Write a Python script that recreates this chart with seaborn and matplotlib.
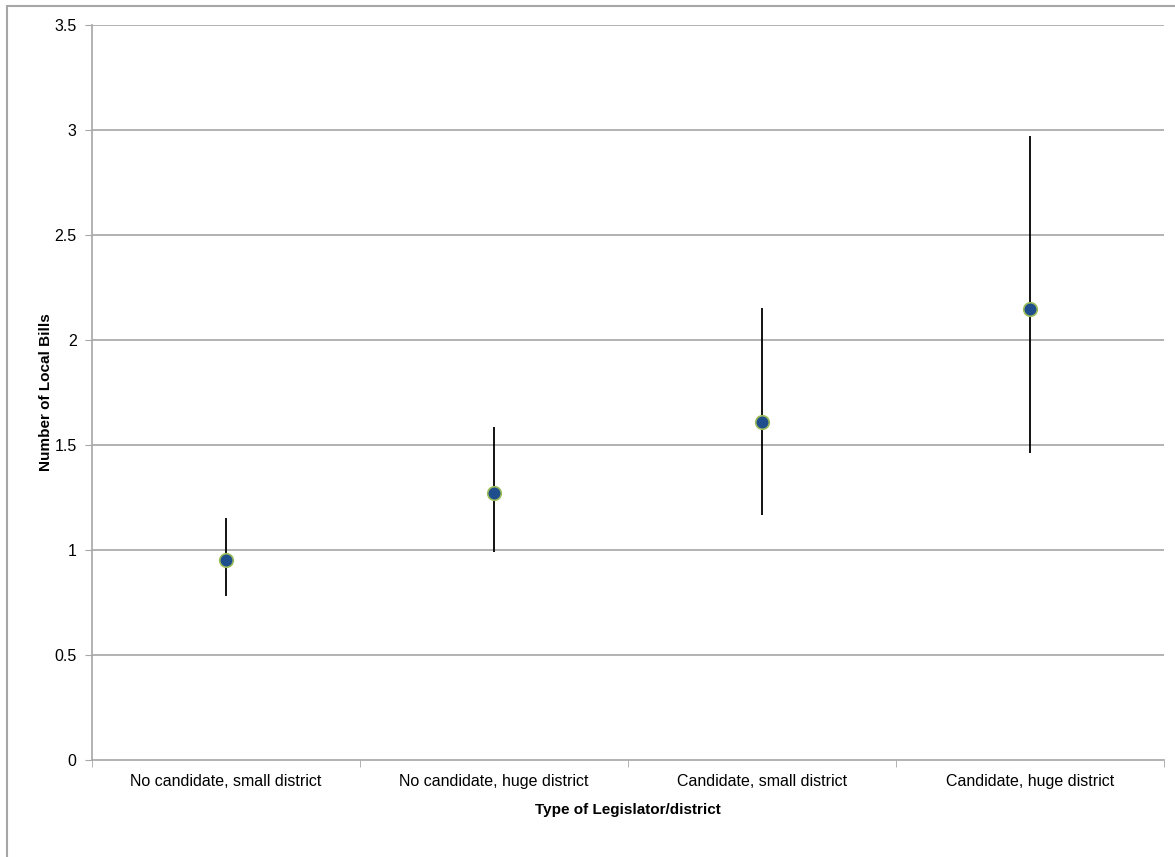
import matplotlib.pyplot as plt
import pandas as pd
import seaborn as sns
from matplotlib.lines import Line2D

categories = [
    "No candidate, small district",
    "No candidate, huge district",
    "Candidate, small district",
    "Candidate, huge district",
]
means = [0.952, 1.271, 1.608, 2.149]
lower = [0.782, 0.990, 1.165, 1.460]
upper = [1.151, 1.587, 2.154, 2.973]
y_ticks = [0, 0.5, 1, 1.5, 2, 2.5, 3, 3.5]

df = pd.DataFrame({"type": categories, "bills": means, "lo": lower, "hi": upper})
df["pos"] = range(len(df))

sns.set_style("white")
plt.rcParams["font.family"] = ["Liberation Sans", "DejaVu Sans"]
plt.rcParams["text.color"] = "black"
plt.rcParams["axes.labelcolor"] = "black"
plt.rcParams["xtick.labelcolor"] = "black"
plt.rcParams["ytick.labelcolor"] = "black"

fig = plt.figure(figsize=(11.75, 8.57), dpi=100)
ax = fig.add_axes([92 / 1175, 1 - 760 / 857, 1072 / 1175, 735 / 857])

grid_color = "#a6a6a6"
for t in y_ticks[1:]:
    ax.axhline(t, color=grid_color, lw=1.2, zorder=0)

ax.vlines(df["pos"], df["lo"], df["hi"], color="black", lw=1.3, zorder=2)
sns.scatterplot(data=df, x="pos", y="bills", ax=ax, s=95, color="#1f4e8c",
                edgecolor="#9bbb59", linewidth=1.2, zorder=3, legend=False)

ax.set_xlim(-0.5, len(categories) - 0.5)
ax.set_ylim(0, 3.5)
ax.set_yticks(y_ticks)
ax.set_yticklabels([f"{t:g}" for t in y_ticks])
ax.set_xticks(df["pos"])
ax.set_xticklabels(categories)
ax.set_xticks([p - 0.5 for p in range(len(categories) + 1)], minor=True)

ax.tick_params(axis="x", which="major", length=0, pad=10, labelsize=11.5)
ax.tick_params(axis="x", which="minor", length=5, color=grid_color, direction="out", bottom=True)
ax.tick_params(axis="y", length=5, color=grid_color, direction="out", left=True, pad=6, labelsize=11.5)

for side in ["top", "right"]:
    ax.spines[side].set_visible(False)
for side in ["left", "bottom"]:
    ax.spines[side].set_color(grid_color)
    ax.spines[side].set_linewidth(1.2)

ax.set_xlabel("Type of Legislator/district", fontweight="bold", fontsize=11, labelpad=10)
ax.set_ylabel("Number of Local Bills", fontweight="bold", fontsize=11, labelpad=1)

# chart-area border (left and top edges visible)
fig.add_artist(Line2D([7 / 1175, 7 / 1175], [0, 1 - 6 / 857], transform=fig.transFigure,
                      color="#a6a6a6", lw=1.5))
fig.add_artist(Line2D([7 / 1175, 1], [1 - 6 / 857, 1 - 6 / 857], transform=fig.transFigure,
                      color="#a6a6a6", lw=1.5))

fig.savefig("out.png", dpi=100)
